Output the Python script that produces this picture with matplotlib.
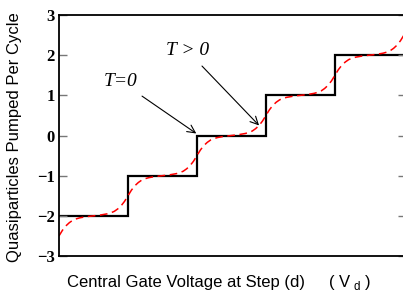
import numpy as np
import matplotlib
matplotlib.use("Agg")
import matplotlib.pyplot as plt

# Staircase (T = 0): edges in units of step, levels
step_edges = [0, 1, 2, 3, 4, 5]
step_levels = [-2, -1, 0, 1, 2]

# Smoothed staircase (T > 0) at x = 0, 0.05, ..., 5
smooth_x = np.linspace(0, 5, 101)
smooth_y = [
    -2.5, -2.36, -2.25, -2.17, -2.11, -2.075, -2.05, -2.035, -2.02, -2.01,
    -2.0, -1.99, -1.98, -1.965, -1.95, -1.925, -1.89, -1.83, -1.75, -1.64,
    -1.5, -1.36, -1.25, -1.17, -1.11, -1.075, -1.05, -1.035, -1.02, -1.01,
    -1.0, -0.99, -0.98, -0.965, -0.95, -0.925, -0.89, -0.83, -0.75, -0.64,
    -0.5, -0.36, -0.25, -0.17, -0.11, -0.075, -0.05, -0.035, -0.02, -0.01,
    0.0, 0.01, 0.02, 0.035, 0.05, 0.075, 0.11, 0.17, 0.25, 0.36,
    0.5, 0.64, 0.75, 0.83, 0.89, 0.925, 0.95, 0.965, 0.98, 0.99,
    1.0, 1.01, 1.02, 1.035, 1.05, 1.075, 1.11, 1.17, 1.25, 1.36,
    1.5, 1.64, 1.75, 1.83, 1.89, 1.925, 1.95, 1.965, 1.98, 1.99,
    2.0, 2.01, 2.02, 2.035, 2.05, 2.075, 2.11, 2.17, 2.25, 2.36,
    2.5,
]

y_ticks = [-3, -2, -1, 0, 1, 2, 3]
y_ticklabels = ["\u22123", "\u22122", "\u22121", "0", "1", "2", "3"]

W, H = 403, 292
fig = plt.figure(figsize=(W / 100, H / 100), dpi=100)
ax = fig.add_axes([59 / W, 1 - 256 / H, (406 - 59) / W, (256 - 15) / H])

ax.stairs(step_levels, step_edges, baseline=None, color="black", lw=1.6)
ax.plot(smooth_x, smooth_y, color="red", lw=1.1, ls=(0, (5, 3)))

ax.set_xlim(0, 5.03)
ax.set_ylim(-3, 3)
ax.set_xticks([])
ax.set_yticks(y_ticks)
ax.set_yticklabels(y_ticklabels, fontfamily="Liberation Serif",
                   fontweight="bold", fontsize=12)
ax.tick_params(axis="y", direction="in", length=6, width=1, color="#777777",
               right=True, pad=3)
for s in ["left", "top", "bottom"]:
    ax.spines[s].set_linewidth(1.3)
ax.spines["right"].set_visible(False)

fig.text(15 / W, 1 - 137 / H, "Quasiparticles Pumped Per Cycle",
         fontfamily="Liberation Sans", fontsize=12, rotation=90,
         ha="center", va="center")
fig.text(67 / W, 1 - 283 / H, "Central Gate Voltage at Step (d)",
         fontfamily="Liberation Sans", fontsize=12, ha="left", va="center")
fig.text(328 / W, 1 - 283 / H, r"( V$_{\ \mathregular{d}}$ )",
         fontfamily="Liberation Sans", fontsize=12, ha="left", va="center")

ann_font = dict(fontfamily="Liberation Serif", fontstyle="italic", fontsize=14)
ax.annotate("T=0", xy=(1.99, 0.05), xytext=(0.9, 1.34), ha="center",
            va="center", arrowprops=dict(arrowstyle="->", lw=0.8, color="black",
                                         shrinkA=4, shrinkB=0), **ann_font)
ax.annotate("T > 0", xy=(2.9, 0.25), xytext=(1.86, 2.11), ha="center",
            va="center", arrowprops=dict(arrowstyle="->", lw=0.8, color="black",
                                         shrinkA=4, shrinkB=0), **ann_font)

fig.savefig("out.png", dpi=100)
